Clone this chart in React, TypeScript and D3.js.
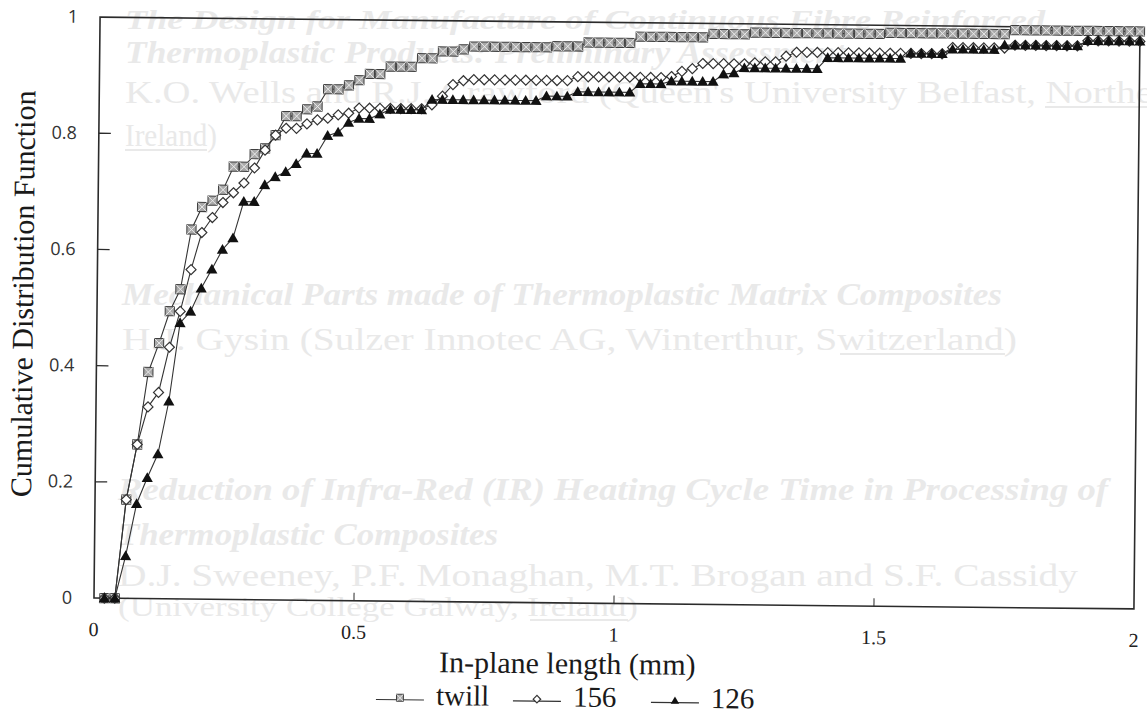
import React from 'react';
import * as d3 from 'd3';

// in-plane length grid (mm) and the three CDF curves
const LENGTHS = [
  0.02, 0.04, 0.06, 0.08, 0.10, 0.12, 0.14, 0.16, 0.18, 0.20,
  0.22, 0.24, 0.26, 0.28, 0.30, 0.32, 0.34, 0.36, 0.38, 0.40,
  0.42, 0.44, 0.46, 0.48, 0.50, 0.52, 0.54, 0.56, 0.58, 0.60,
  0.62, 0.64, 0.66, 0.68, 0.70, 0.72, 0.74, 0.76, 0.78, 0.80,
  0.82, 0.84, 0.86, 0.88, 0.90, 0.92, 0.94, 0.96, 0.98, 1.00,
  1.02, 1.04, 1.06, 1.08, 1.10, 1.12, 1.14, 1.16, 1.18, 1.20,
  1.22, 1.24, 1.26, 1.28, 1.30, 1.32, 1.34, 1.36, 1.38, 1.40,
  1.42, 1.44, 1.46, 1.48, 1.50, 1.52, 1.54, 1.56, 1.58, 1.60,
  1.62, 1.64, 1.66, 1.68, 1.70, 1.72, 1.74, 1.76, 1.78, 1.80,
  1.82, 1.84, 1.86, 1.88, 1.90, 1.92, 1.94, 1.96, 1.98, 2.00,
];

const TWILL = [
  0, 0, 0.17, 0.265, 0.39, 0.44, 0.495, 0.533, 0.636, 0.675,
  0.686, 0.705, 0.745, 0.745, 0.767, 0.777, 0.8, 0.833, 0.833, 0.845,
  0.85, 0.88, 0.88, 0.887, 0.896, 0.907, 0.907, 0.92, 0.92, 0.92,
  0.935, 0.935, 0.947, 0.947, 0.951, 0.956, 0.956, 0.956, 0.956, 0.956,
  0.956, 0.956, 0.956, 0.958, 0.958, 0.958, 0.965, 0.965, 0.965, 0.965,
  0.965, 0.976, 0.976, 0.976, 0.976, 0.976, 0.976, 0.976, 0.982, 0.982,
  0.982, 0.982, 0.985, 0.985, 0.985, 0.985, 0.985, 0.985, 0.985, 0.985,
  0.985, 0.985, 0.985, 0.985, 0.985, 0.987, 0.987, 0.987, 0.987, 0.987,
  0.987, 0.987, 0.987, 0.987, 0.987, 0.987, 0.987, 0.994, 0.994, 0.994,
  0.994, 0.994, 0.994, 0.994, 0.994, 0.994, 0.994, 0.994, 0.994, 0.994,
];

const S156 = [
  0, 0, 0.17, 0.265, 0.33, 0.355, 0.433, 0.495, 0.567, 0.631,
  0.657, 0.683, 0.7, 0.717, 0.743, 0.774, 0.8, 0.812, 0.812, 0.82,
  0.827, 0.83, 0.836, 0.839, 0.848, 0.848, 0.848, 0.848, 0.848, 0.848,
  0.848, 0.855, 0.87, 0.89, 0.897, 0.899, 0.899, 0.899, 0.899, 0.899,
  0.899, 0.899, 0.899, 0.899, 0.899, 0.906, 0.906, 0.906, 0.906, 0.906,
  0.906, 0.906, 0.906, 0.906, 0.908, 0.917, 0.922, 0.931, 0.931, 0.931,
  0.931, 0.931, 0.933, 0.935, 0.935, 0.945, 0.952, 0.952, 0.952, 0.952,
  0.952, 0.952, 0.952, 0.952, 0.952, 0.952, 0.952, 0.952, 0.952, 0.952,
  0.952, 0.963, 0.963, 0.963, 0.963, 0.963, 0.963, 0.968, 0.968, 0.968,
  0.968, 0.968, 0.968, 0.968, 0.977, 0.977, 0.977, 0.977, 0.977, 0.977,
];

const S126 = [
  0, 0, 0.073, 0.163, 0.208, 0.249, 0.34, 0.475, 0.495, 0.535,
  0.568, 0.602, 0.622, 0.685, 0.685, 0.714, 0.728, 0.737, 0.751, 0.769,
  0.769, 0.8, 0.806, 0.823, 0.83, 0.83, 0.838, 0.846, 0.846, 0.846,
  0.846, 0.864, 0.864, 0.864, 0.864, 0.864, 0.864, 0.864, 0.864, 0.864,
  0.864, 0.864, 0.872, 0.872, 0.872, 0.88, 0.88, 0.88, 0.88, 0.88,
  0.88, 0.895, 0.895, 0.895, 0.9, 0.9, 0.9, 0.9, 0.9, 0.913,
  0.915, 0.924, 0.924, 0.924, 0.924, 0.924, 0.924, 0.924, 0.924, 0.943,
  0.943, 0.943, 0.943, 0.943, 0.943, 0.943, 0.943, 0.952, 0.952, 0.952,
  0.952, 0.96, 0.96, 0.96, 0.96, 0.96, 0.968, 0.968, 0.968, 0.968,
  0.968, 0.968, 0.968, 0.968, 0.977, 0.977, 0.977, 0.977, 0.977, 0.977,
];

const SERIES_NAMES = ['twill', '156', '126'];
const X_TICKS = [0, 0.5, 1, 1.5, 2];
const X_TICK_LABELS = ['0', '0.5', '1', '1.5', '2'];
const Y_TICKS = [0, 0.2, 0.4, 0.6, 0.8, 1];
const Y_TICK_LABELS = ['0', '0.2', '0.4', '0.6', '0.8', '1'];

// faint text showing through from the other side of the scanned page
// u = [start, end] of an underlined stretch
const BLEED = [
  { t: 'The Design for Manufacture of Continuous Fibre Reinforced', x: 125, y: 29, s: 28, w: 920, b: true },
  { t: 'Thermoplastic Products: Preliminary Assessment', x: 125, y: 63, s: 31, w: 720, b: true },
  { t: "K.O. Wells and R.J. Crawford (Queen's University Belfast, Northern", x: 125, y: 103, s: 31, w: 1060, b: false, u: [1045, 1147] },
  { t: 'Ireland)', x: 125, y: 146, s: 31, w: 92, b: false, u: [125, 207] },
  { t: 'Mechanical Parts made of Thermoplastic Matrix Composites', x: 122, y: 305, s: 31, w: 880, b: true },
  { t: 'H.J. Gysin (Sulzer Innotec AG, Winterthur, Switzerland)', x: 122, y: 350, s: 31, w: 895, b: false, u: [840, 1005] },
  { t: 'Reduction of Infra-Red (IR) Heating Cycle Time in Processing of', x: 118, y: 500, s: 31, w: 990, b: true },
  { t: 'Thermoplastic Composites', x: 118, y: 545, s: 31, w: 380, b: true },
  { t: 'D.J. Sweeney, P.F. Monaghan, M.T. Brogan and S.F. Cassidy', x: 118, y: 586, s: 31, w: 960, b: false },
  { t: '(University College Galway, Ireland)', x: 118, y: 616, s: 28, w: 520, b: false, u: [530, 628] },
];

const INK = '#2b2b2b';
const GHOST = '#e9e9e9';

const Marker = ({ kind, size = 1 }: { kind: string; size?: number }) => {
  if (kind === 'twill') {
    const h = 4.6 * size;
    return (
      <g>
        <rect x={-h} y={-h} width={2 * h} height={2 * h} fill="#a9a9a9" stroke="#3f3f3f" strokeWidth={1} />
        <path d={`M${-h},${-h}L${h},${h}M${-h},${h}L${h},${-h}`} stroke="#f0f0f0" strokeWidth={0.9} />
      </g>
    );
  }
  if (kind === '156') {
    const h = 5 * size;
    return <path d={`M0,${-h}L${h},0L0,${h}L${-h},0Z`} fill="#fff" stroke="#333" strokeWidth={1.2} />;
  }
  const h = 5.6 * size;
  return <path d={`M0,${-h}L${h},${h * 0.75}L${-h},${h * 0.75}Z`} fill="#111" />;
};

export default function App() {
  const x = d3.scaleLinear().domain([0, 2]).range([97, 1137]);
  const y = d3.scaleLinear().domain([0, 1]).range([603.5, 22.5]);
  const series = [TWILL, S156, S126];
  const line = d3.line<number>().x((_, i) => x(LENGTHS[i])).y((d) => y(d));

  const legendX = [380, 517, 655];

  return (
    <svg width={1147} height={724} style={{ position: 'fixed', left: 0, top: 0, background: '#fff' }}
      fontFamily="'Liberation Serif', serif">
      <rect width={1147} height={724} fill="#fff" />

      <g fill={GHOST}>
        {BLEED.map((l, i) => (
          <g key={i}>
            <text x={l.x} y={l.y} fontSize={l.s} fontWeight={l.b ? 'bold' : 'normal'}
              fontStyle={l.b ? 'italic' : 'normal'} textLength={l.w} lengthAdjust="spacingAndGlyphs">{l.t}</text>
            {l.u && <line x1={l.u[0]} x2={l.u[1]} y1={l.y + 4} y2={l.y + 4} stroke={GHOST} strokeWidth={2} />}
          </g>
        ))}
      </g>

      <g transform="rotate(0.6 617 313)">
        {/* frame */}
        <rect x={x(0)} y={y(1)} width={x(2) - x(0)} height={y(0) - y(1)} fill="none" stroke={INK} strokeWidth={1.6} />

        {/* y ticks */}
        {Y_TICKS.map((v, i) => (
          <g key={'y' + i}>
            {v > 0 && v < 1 && <line x1={x(0)} x2={x(0) + 12} y1={y(v)} y2={y(v)} stroke={INK} strokeWidth={1.3} />}
            <text x={x(0) - 22} y={y(v) + 6} textAnchor="end" fontFamily="'Open Sans', sans-serif" fontSize={18} fill="#333">
              {Y_TICK_LABELS[i]}
            </text>
          </g>
        ))}

        {/* x ticks */}
        {X_TICKS.map((v, i) => (
          <g key={'x' + i}>
            {v > 0 && v < 2 && <line x1={x(v)} x2={x(v)} y1={y(0)} y2={y(0) - 8} stroke={INK} strokeWidth={1} />}
            <text x={x(v)} y={y(0) + 38} textAnchor="middle" fontSize={20} fill="#222">
              {X_TICK_LABELS[i]}
            </text>
          </g>
        ))}

        {/* series */}
        {series.map((vals, s) => (
          <g key={'s' + s}>
            <path d={line(vals) || ''} fill="none" stroke="#333" strokeWidth={1.1} />
            {vals.map((v, i) => (
              <g key={i} transform={`translate(${x(LENGTHS[i])},${y(v)})`}>
                <Marker kind={SERIES_NAMES[s]} />
              </g>
            ))}
          </g>
        ))}

        {/* axis titles */}
        <text transform="translate(33,300) rotate(-90)" textAnchor="middle" fontSize={30} fill="#1a1a1a">
          Cumulative Distribution Function
        </text>
        <text x={571} y={674} textAnchor="middle" fontSize={30} fill="#1a1a1a">
          In-plane length (mm)
        </text>

        {/* legend */}
        {SERIES_NAMES.map((name, s) => (
          <g key={'l' + s}>
            <line x1={legendX[s]} x2={legendX[s] + 48} y1={702} y2={702} stroke="#333" strokeWidth={1.2} />
            <g transform={`translate(${legendX[s] + 24},${700})`}>
              <Marker kind={name} size={0.75} />
            </g>
            <text x={legendX[s] + 60} y={707} fontSize={29} fill="#1a1a1a">{name}</text>
          </g>
        ))}
      </g>
    </svg>
  );
}
